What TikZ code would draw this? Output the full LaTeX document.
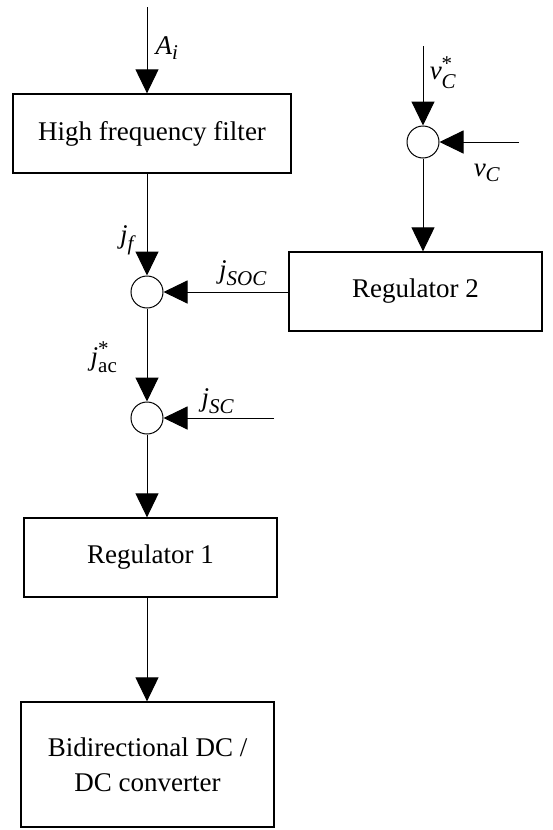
\documentclass[tikz,border=0pt]{standalone}
\usepackage{amsmath}
\usepackage{fontspec}
\setmainfont{Liberation Serif}
\usetikzlibrary{positioning,calc,arrows.meta}
\DeclareMathSizes{27}{27}{21}{16}
\newcommand*{\vlab}[1]{\text{\itshape #1}}
\tikzset{
  blk/.style={draw,line width=1.3pt,minimum height=79pt,inner sep=0pt,align=center},
  sumc/.style={draw,circle,line width=1pt,minimum size=32pt,inner sep=0pt},
  sig/.style={line width=1pt,-{Triangle[width=23pt,length=24pt]}},
  lbl/.style={inner sep=0pt}
}

\begin{document}
\begin{tikzpicture}[x=1pt,y=-1pt,font=\fontsize{27}{35}\selectfont]
\useasboundingbox (0,0) rectangle (552,830);
% Blocks
\node[blk,minimum width=278pt] (hff) at (152,133.5) {High frequency filter};
\node[blk,minimum width=253pt] (reg2) at (415.5,291.5) {Regulator 2};
\node[blk,minimum width=253pt] (reg1) at (150.5,557.5) {Regulator 1};
\node[blk,minimum width=253pt,minimum height=125pt] (dcdc) at (147.5,764.5) {Bidirectional DC /\\DC converter};
% Summing points
\node[sumc] (s1) at (147,292) {};
\node[sumc] (s2) at (423,142) {};
\node[sumc] (s3) at (147,418) {};
% Free ends of the inputs
\coordinate (ain) at (147,7);
\coordinate (vref) at (423,46);
\coordinate (vmeas) at (519,142);
\coordinate (jsc) at (274,418);
% Signal lines
\draw[sig] (ain) -- (ain |- hff.north);
\draw[sig] (s1 |- hff.south) -- (s1.north);
\draw[sig] (s1 -| reg2.west) -- (s1.east);
\draw[sig] (vref) -- (s2.north);
\draw[sig] (vmeas) -- (s2.east);
\draw[sig] (s2.south) -- (s2 |- reg2.north);
\draw[sig] (s1.south) -- (s3.north);
\draw[sig] (jsc) -- (s3.east);
\draw[sig] (s3.south) -- (s3 |- reg1.north);
\draw[sig] (s3 |- reg1.south) -- (s3 |- dcdc.north);
% Signal names
\node[lbl] (lai) at (167,48) {$\vlab{A}_{\vlab{i}}$};
\node[lbl] (lvr) at (443,73) {$\vlab{v}^{\text{*}}_{\vlab{C}}$};
\node[lbl] (lvm) at (487,173) {$\vlab{v}_{\vlab{C}}$};
\node[lbl] (ljf) at (127,240) {$\vlab{j}_{\vlab{f}}$};
\node[lbl] (ljsoc) at (243,273) {$\vlab{j}_{\vlab{SOC}}$};
\node[lbl] (ljac) at (104,357) {$\vlab{j}^{\text{*}}_{\text{ac}}$};
\node[lbl] (ljsc) at (218,401) {$\vlab{j}_{\vlab{SC}}$};
\end{tikzpicture}
\end{document}
